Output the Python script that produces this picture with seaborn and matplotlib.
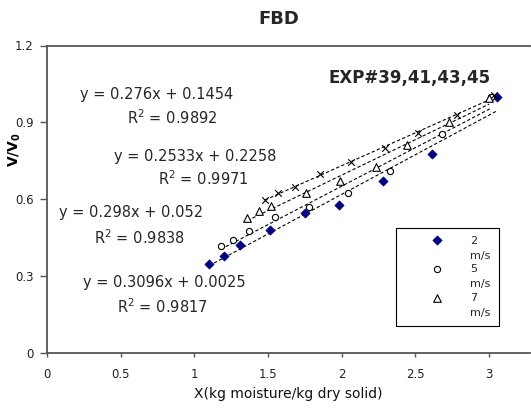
import numpy as np
import matplotlib
matplotlib.use("Agg")
import matplotlib.pyplot as plt
import seaborn as sns
from matplotlib.collections import PathCollection
from matplotlib.legend_handler import HandlerPathCollection

# ---------------- data ----------------
x_2ms = [1.10, 1.20, 1.31, 1.51, 1.75, 1.98, 2.28, 2.61, 3.05]
y_2ms = [0.349, 0.377, 0.423, 0.481, 0.545, 0.577, 0.670, 0.777, 1.000]
x_5ms = [1.18, 1.26, 1.37, 1.55, 1.78, 2.04, 2.33, 2.68, 3.01]
y_5ms = [0.417, 0.440, 0.477, 0.532, 0.568, 0.623, 0.709, 0.855, 1.000]
x_7ms = [1.36, 1.44, 1.52, 1.76, 1.99, 2.23, 2.44, 2.73, 3.00]
y_7ms = [0.526, 0.553, 0.573, 0.623, 0.672, 0.725, 0.810, 0.900, 0.997]
x_9ms = [1.48, 1.57, 1.68, 1.85, 2.06, 2.29, 2.52, 2.78, 3.03]
y_9ms = [0.596, 0.623, 0.649, 0.699, 0.746, 0.799, 0.859, 0.927, 1.005]

legend_labels = ["2\nm/s", "5\nm/s", "7\nm/s"]
eq_labels = ["y = 0.276x + 0.1454", "y = 0.2533x + 0.2258",
             "y = 0.298x + 0.052", "y = 0.3096x + 0.0025"]
r2_labels = ["R$^2$ = 0.9892", "R$^2$ = 0.9971", "R$^2$ = 0.9838", "R$^2$ = 0.9817"]
x_ticks = [0, 0.5, 1, 1.5, 2, 2.5, 3]
x_tick_labels = ["0", "0.5", "1", "1.5", "2", "2.5", "3"]
y_ticks = [0, 0.3, 0.6, 0.9, 1.2]
y_tick_labels = ["0", "0.3", "0.6", "0.9", "1.2"]

# ---------------- style ----------------
sns.set_theme(style="white")
plt.rcParams['font.family'] = ['DejaVu Sans']
plt.rcParams['mathtext.default'] = 'regular'

W, H = 531, 412
fig = plt.figure(figsize=(W / 100, H / 100), dpi=100)
fig.patch.set_facecolor('white')
ax = fig.add_axes([47 / W, 1 - 353 / H, (530 - 47) / W, (353 - 45.5) / H])

line_kws = dict(lw=0.8, ls=(0, (3, 2)), color='black')
for xs, ys in [(x_2ms, y_2ms), (x_5ms, y_5ms), (x_7ms, y_7ms), (x_9ms, y_9ms)]:
    sns.regplot(x=np.array(xs), y=np.array(ys), scatter=False, ci=None,
                truncate=True, color='black', line_kws=line_kws, ax=ax)

sns.scatterplot(x=x_2ms, y=y_2ms, marker='D', s=22, color='#000080',
                edgecolor='#000080', linewidth=0.5, ax=ax, zorder=3,
                label=legend_labels[0], legend=False)
sns.scatterplot(x=x_5ms, y=y_5ms, marker='o', s=20, facecolor='white',
                edgecolor='black', linewidth=0.8, ax=ax, zorder=3,
                label=legend_labels[1], legend=False)
sns.scatterplot(x=x_7ms, y=y_7ms, marker='^', s=30, facecolor='white',
                edgecolor='black', linewidth=0.8, ax=ax, zorder=3,
                label=legend_labels[2], legend=False)
sns.scatterplot(x=x_9ms, y=y_9ms, marker='x', s=22, color='black',
                linewidth=0.8, ax=ax, zorder=3, legend=False)

ax.set_xlim(0, 3.277)
ax.set_ylim(0, 1.2)
ax.set_xticks(x_ticks)
ax.set_xticklabels(x_tick_labels)
ax.set_yticks(y_ticks)
ax.set_yticklabels(y_tick_labels)

for side in ['left', 'top', 'bottom']:
    ax.spines[side].set_visible(True)
    ax.spines[side].set_color('#555555')
    ax.spines[side].set_linewidth(1.3)
ax.spines['right'].set_visible(False)

ax.tick_params(axis='x', bottom=True, direction='out', length=3, width=1,
               color='#555555', labelsize=8.5, labelcolor='#222222', pad=8)
ax.tick_params(axis='y', left=True, direction='out', length=5, width=1,
               color='#555555', labelsize=8.5, labelcolor='#222222', pad=4.5)

ax.set_xlabel("X(kg moisture/kg dry solid)", fontsize=10, color='#111111', labelpad=4)
ax.set_ylabel("V/V$_0$", fontsize=10, fontweight='bold', color='black')
ax.yaxis.set_label_coords((23 - 47) / 483, (353 - 150) / 307.5)

fig.text(279 / W, 1 - 18.5 / H, "FBD", fontsize=13, fontweight='bold',
         ha='center', va='center')
fig.text(410 / W, 1 - 78 / H, "EXP#39,41,43,45", fontsize=12, fontweight='bold',
         ha='center', va='center')

eq_pos = [(157, 94), (195, 157), (131, 213), (164, 283)]
r2_pos = [(172, 118), (203, 179), (139, 238), (162, 307)]
for lab, (px, py) in zip(eq_labels, eq_pos):
    fig.text(px / W, 1 - py / H, lab, fontsize=10.5, ha='center', va='center')
for lab, (px, py) in zip(r2_labels, r2_pos):
    fig.text(px / W, 1 - py / H, lab, fontsize=10.5, ha='center', va='center')


class UpHandler(HandlerPathCollection):
    def get_ydata(self, legend, xdescent, ydescent, width, height, fontsize):
        yd = np.asarray(super().get_ydata(legend, xdescent, ydescent, width, height, fontsize))
        return yd + 0.8 * fontsize


handles, labels = ax.get_legend_handles_labels()
leg = ax.legend(handles, labels, loc='upper left',
                bbox_to_anchor=(396 / W, 1 - 228 / H), bbox_transform=fig.transFigure,
                borderaxespad=0, fontsize=8, frameon=True, fancybox=False,
                edgecolor='black', framealpha=1, scatterpoints=1,
                borderpad=0.7, handlelength=5.9, handletextpad=0.1, labelspacing=0.35,
                handler_map={PathCollection: UpHandler()})
leg.get_frame().set_linewidth(0.8)
for t in leg.get_texts():
    t.set_linespacing(1.6)

fig.savefig("out.png", dpi=100)
